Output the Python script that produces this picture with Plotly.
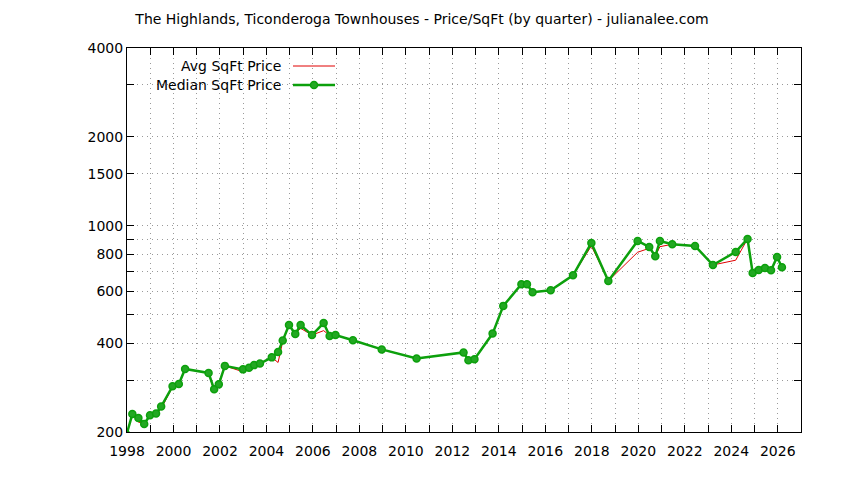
import plotly.graph_objects as go

# data
years = [1997.98, 1998.23, 1998.49, 1998.74, 1998.99, 1999.25, 1999.47, 1999.96, 2000.23, 2000.50,
         2001.51, 2001.75, 2001.95, 2002.21, 2002.99, 2003.25, 2003.47, 2003.72, 2004.23, 2004.50,
         2004.70, 2004.97, 2005.24, 2005.47, 2005.96, 2006.46, 2006.72, 2006.97, 2007.72, 2008.96,
         2010.46, 2012.48, 2012.69, 2012.95, 2013.73, 2014.19, 2014.97, 2015.21, 2015.45, 2016.23,
         2017.19, 2017.98, 2018.71, 2019.97, 2020.47, 2020.73, 2020.93, 2021.46, 2022.44, 2023.21,
         2024.19, 2024.70, 2024.92, 2025.18, 2025.45, 2025.71, 2025.97, 2026.18]

median_price = [196, 230, 223, 213, 228, 231, 244, 286, 291, 327,
                317, 279, 290, 335, 326, 330, 337, 341, 358, 373,
                408, 461, 430, 461, 426, 468, 423, 426, 409, 381,
                355, 372, 350, 353, 431, 535, 633, 633, 595, 604,
                679, 874, 650, 888, 847, 788, 888, 865, 854, 736,
                815, 902, 692, 708, 719, 706, 783, 723]

avg_price = [196, 230, 216, 214, 228, 229, 240, 284, 290, 327,
             317, 274, 288, 335, 320, 326, 335, 341, 358, 344,
             405, 461, 432, 449, 426, 441, 425, 426, 409, 381,
             355, 372, 350, 353, 431, 535, 633, 633, 595, 604,
             679, 854, 650, 813, 838, 788, 849, 865, 854, 736,
             764, 902, 692, 708, 719, 706, 783, 723]

x_tick_vals = list(range(1998, 2028))
x_tick_text = [str(y) if y % 2 == 0 and y <= 2026 else "" for y in x_tick_vals]
y_tick_vals = [200, 300, 400, 500, 600, 700, 800, 900, 1000, 1500, 2000, 3000, 4000]
y_tick_text = ["200", "", "400", "", "600", "", "800", "", "1000", "1500", "2000", "", "4000"]

title_text = "The Highlands, Ticonderoga Townhouses - Price/SqFt (by quarter) - julianalee.com"
legend_names = ["Avg SqFt Price", "Median SqFt Price"]

RED = "#e00000"
GREEN = "#0ca00c"
FONT = "DejaVu Sans"
FS = 14

# page offset of the figure (browser body margin)
OFF = 8
PL, PR, PT, PB = 127 - OFF, 801 - OFF, 48 - OFF, 432 - OFF
W, H = 844, 480

fig = go.Figure()
fig.add_trace(go.Scatter(x=years, y=avg_price, mode="lines", name=legend_names[0],
                         line=dict(color=RED, width=1)))
fig.add_trace(go.Scatter(x=years, y=median_price, mode="lines+markers", name=legend_names[1],
                         line=dict(color=GREEN, width=2.5),
                         marker=dict(color="#22a822", size=7, line=dict(color=GREEN, width=1.5))))

axis_common = dict(showline=True, linecolor="black", linewidth=1, mirror="allticks",
                   ticks="inside", ticklen=7, tickcolor="black",
                   showgrid=True, gridcolor="#9a9a9a", griddash="1px,4px", gridwidth=1,
                   zeroline=False, tickfont=dict(family=FONT, size=FS, color="black"))

fig.update_xaxes(range=[1998, 2027], tickmode="array", tickvals=x_tick_vals,
                 ticktext=x_tick_text, ticklabelstandoff=6, **axis_common)
fig.update_yaxes(type="log", range=[2.30103, 3.60206], tickmode="array",
                 tickvals=y_tick_vals, ticktext=y_tick_text, **axis_common)

# gnuplot-style legend: text right-aligned, sample to the right
pw = PR - PL
ph = PB - PT
lx_text = (283 - 127) / pw
lx0 = (293 - 127) / pw
lx1 = (335 - 127) / pw
ly = [(432 - 66) / ph, (432 - 85) / ph]
for name, yy in zip(legend_names, ly):
    fig.add_annotation(xref="paper", yref="paper", x=lx_text, y=yy, text=name,
                       showarrow=False, xanchor="right", yanchor="middle",
                       font=dict(family=FONT, size=FS, color="black"))
fig.add_shape(type="line", xref="paper", yref="paper", x0=lx0, x1=lx1, y0=ly[0], y1=ly[0],
              line=dict(color=RED, width=1))
fig.add_shape(type="line", xref="paper", yref="paper", x0=lx0, x1=lx1, y0=ly[1], y1=ly[1],
              line=dict(color=GREEN, width=2.5))
cx = (lx0 + lx1) / 2
fig.add_shape(type="circle", xref="paper", yref="paper", xsizemode="pixel", ysizemode="pixel",
              xanchor=cx, yanchor=ly[1], x0=-3.5, x1=3.5, y0=-3.5, y1=3.5,
              fillcolor="#22a822", line=dict(color=GREEN, width=1.5))

fig.update_layout(
    width=W, height=H,
    margin=dict(l=PL, r=W - PR, t=PT, b=H - PB),
    paper_bgcolor="white", plot_bgcolor="white",
    showlegend=False,
    title=dict(text=title_text, x=(422 - OFF) / W, xanchor="center",
               y=1 - (19 - OFF) / H, yanchor="middle",
               font=dict(family=FONT, size=FS, color="black")),
)

fig.write_html("out.html")
